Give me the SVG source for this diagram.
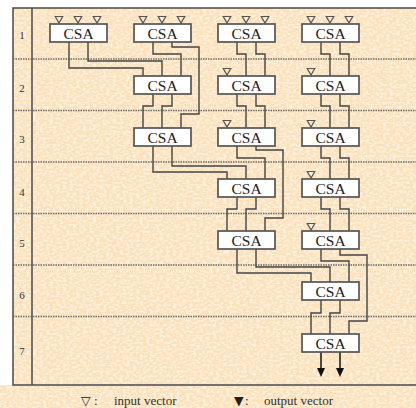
<svg xmlns="http://www.w3.org/2000/svg" xmlns:xlink="http://www.w3.org/1999/xlink" width="416" height="408" viewBox="0 0 416 408">
  <style>
    .frame { fill: none; stroke: #4a4a4a; stroke-width: 1.5; }
    .sep { fill: none; stroke: #6a6a6a; stroke-width: 1.5; stroke-dasharray: 1.5 1; }
    .row { font-family: "Liberation Serif", "DejaVu Serif", serif; font-size: 11px; fill: #333; text-anchor: middle; }
    .box rect { fill: #ffffff; stroke: #555555; stroke-width: 1.7; }
    .box text { font-family: "Liberation Serif", "DejaVu Serif", serif; font-size: 15.5px; fill: #222; text-anchor: middle; }
    .wire { fill: none; stroke: #444444; stroke-width: 1.4; }
    .out { fill: none; stroke: #222222; stroke-width: 1.6; marker-end: url(#outArrow); }
    .in { fill: none; stroke: #555555; stroke-width: 1.2; }
    .legend { font-family: "Liberation Serif", "DejaVu Serif", serif; font-size: 13px; fill: #333; }
    .sym { font-family: "DejaVu Sans", sans-serif; font-size: 12.5px; fill: #222; }
  </style>
  <defs>
    <filter id="paper" x="0" y="0" width="100%" height="100%">
      <feTurbulence type="fractalNoise" baseFrequency="0.3 0.45" numOctaves="2" seed="7" result="n"/>
      <feColorMatrix in="n" type="matrix" values="0 0 0 0 1  0 0 0 0 0.97  0 0 0 0 0.9  0 0 0 -3.2 1.9"/>
    </filter>
    <!-- hollow input-vector mark, tip sits on the y it is placed at -->
    <path id="inTri" d="M-3.75,-7.5 H3.75 L0,-1 Z"/>
    <marker id="outArrow" viewBox="0 0 8 9" refX="4" refY="0" markerWidth="8" markerHeight="9" markerUnits="userSpaceOnUse" orient="0">
      <path d="M0,0 H8 L4,9 Z" fill="#111"/>
    </marker>
  </defs>

  <!-- paper background -->
  <rect x="0" y="0" width="416" height="408" fill="#ffffff"/>
  <rect x="13" y="8" width="403" height="400" fill="#fbe1bb"/>
  <rect x="0" y="385" width="416" height="23" fill="#fbe1bb"/>
  <rect x="0" y="8" width="416" height="400" fill="#fff" filter="url(#paper)" opacity="0.65"/>
  <rect x="0" y="8" width="13" height="377" fill="#ffffff"/>

  <!-- time-step frame -->
  <g id="frame">
    <path class="frame" d="M416,8 H13 V385 H416"/>
    <line class="frame" x1="32" y1="8" x2="32" y2="385"/>
    <g>
      <line class="sep" x1="13" y1="59" x2="416" y2="59"/>
      <line class="sep" x1="13" y1="110.5" x2="416" y2="110.5"/>
      <line class="sep" x1="13" y1="162" x2="416" y2="162"/>
      <line class="sep" x1="13" y1="213.5" x2="416" y2="213.5"/>
      <line class="sep" x1="13" y1="265" x2="416" y2="265"/>
      <line class="sep" x1="13" y1="316.5" x2="416" y2="316.5"/>
    </g>
    <text class="row" x="22" y="39">1</text>
    <text class="row" x="22" y="92">2</text>
    <text class="row" x="22" y="143">3</text>
    <text class="row" x="22" y="196">4</text>
    <text class="row" x="22" y="247">5</text>
    <text class="row" x="22" y="299">6</text>
    <text class="row" x="22" y="355">7</text>
  </g>

  <!-- carry-save adder interconnect -->
  <g id="connectors">
    <path class="wire" d="M69,42 V68 H143 V76"/>
    <path class="wire" d="M88,42 V61 H162 V76"/>
    <path class="wire" d="M153,42 V54 H181 V76"/>
    <path class="wire" d="M172,42 V47 H199 V114 H181 V128"/>
    <path class="wire" d="M153,94 V106 H143 V128"/>
    <path class="wire" d="M172,94 V106 H162 V128"/>
    <path class="wire" d="M237,42 V54 H246 V76"/>
    <path class="wire" d="M256,42 V54 H265 V76"/>
    <path class="wire" d="M237,94 V106 H246 V128"/>
    <path class="wire" d="M256,94 V106 H265 V128"/>
    <path class="wire" d="M321,42 V54 H330 V76"/>
    <path class="wire" d="M340,42 V54 H349 V76"/>
    <path class="wire" d="M321,94 V106 H330 V128"/>
    <path class="wire" d="M340,94 V106 H349 V128"/>
    <path class="wire" d="M153,146 V172 H227 V179"/>
    <path class="wire" d="M172,146 V166 H246 V179"/>
    <path class="wire" d="M237,146 V158 H265 V179"/>
    <path class="wire" d="M256,146 V150 H283 V218 H265 V231"/>
    <path class="wire" d="M237,197 V209 H227 V231"/>
    <path class="wire" d="M256,197 V209 H246 V231"/>
    <path class="wire" d="M321,146 V158 H330 V179"/>
    <path class="wire" d="M340,146 V158 H349 V179"/>
    <path class="wire" d="M321,197 V209 H330 V231"/>
    <path class="wire" d="M340,197 V209 H349 V231"/>
    <path class="wire" d="M237,249 V273 H311 V282"/>
    <path class="wire" d="M256,249 V267 H330 V282"/>
    <path class="wire" d="M321,249 V261 H349 V282"/>
    <path class="wire" d="M340,249 V255 H367 V321 H349 V334"/>
    <path class="wire" d="M321,300 V313 H311 V334"/>
    <path class="wire" d="M340,300 V313 H330 V334"/>
    <path class="out" d="M321,352 V368"/>
    <path class="out" d="M340,352 V368"/>
  </g>

  <!-- input vectors -->
  <g id="inputs" class="in">
    <use xlink:href="#inTri" x="59" y="24"/>
    <use xlink:href="#inTri" x="78" y="24"/>
    <use xlink:href="#inTri" x="97" y="24"/>
    <use xlink:href="#inTri" x="143" y="24"/>
    <use xlink:href="#inTri" x="162" y="24"/>
    <use xlink:href="#inTri" x="181" y="24"/>
    <use xlink:href="#inTri" x="227" y="24"/>
    <use xlink:href="#inTri" x="246" y="24"/>
    <use xlink:href="#inTri" x="265" y="24"/>
    <use xlink:href="#inTri" x="311" y="24"/>
    <use xlink:href="#inTri" x="330" y="24"/>
    <use xlink:href="#inTri" x="349" y="24"/>
    <use xlink:href="#inTri" x="227" y="76"/>
    <use xlink:href="#inTri" x="227" y="128"/>
    <use xlink:href="#inTri" x="311" y="76"/>
    <use xlink:href="#inTri" x="311" y="128"/>
    <use xlink:href="#inTri" x="311" y="179"/>
    <use xlink:href="#inTri" x="311" y="231"/>
  </g>

  <!-- CSA nodes -->
  <g id="csa-r1-c1" class="box"><rect x="50" y="24" width="57" height="18"/><text x="78.5" y="38.5">CSA</text></g>
  <g id="csa-r1-c2" class="box"><rect x="134" y="24" width="57" height="18"/><text x="162.5" y="38.5">CSA</text></g>
  <g id="csa-r1-c3" class="box"><rect x="218" y="24" width="57" height="18"/><text x="246.5" y="38.5">CSA</text></g>
  <g id="csa-r1-c4" class="box"><rect x="302" y="24" width="57" height="18"/><text x="330.5" y="38.5">CSA</text></g>
  <g id="csa-r2-c2" class="box"><rect x="134" y="76" width="57" height="18"/><text x="162.5" y="90.5">CSA</text></g>
  <g id="csa-r2-c3" class="box"><rect x="218" y="76" width="57" height="18"/><text x="246.5" y="90.5">CSA</text></g>
  <g id="csa-r2-c4" class="box"><rect x="302" y="76" width="57" height="18"/><text x="330.5" y="90.5">CSA</text></g>
  <g id="csa-r3-c2" class="box"><rect x="134" y="128" width="57" height="18"/><text x="162.5" y="142.5">CSA</text></g>
  <g id="csa-r3-c3" class="box"><rect x="218" y="128" width="57" height="18"/><text x="246.5" y="142.5">CSA</text></g>
  <g id="csa-r3-c4" class="box"><rect x="302" y="128" width="57" height="18"/><text x="330.5" y="142.5">CSA</text></g>
  <g id="csa-r4-c3" class="box"><rect x="218" y="179" width="57" height="18"/><text x="246.5" y="193.5">CSA</text></g>
  <g id="csa-r4-c4" class="box"><rect x="302" y="179" width="57" height="18"/><text x="330.5" y="193.5">CSA</text></g>
  <g id="csa-r5-c3" class="box"><rect x="218" y="231" width="57" height="18"/><text x="246.5" y="245.5">CSA</text></g>
  <g id="csa-r5-c4" class="box"><rect x="302" y="231" width="57" height="18"/><text x="330.5" y="245.5">CSA</text></g>
  <g id="csa-r6-c4" class="box"><rect x="302" y="282" width="57" height="18"/><text x="330.5" y="296.5">CSA</text></g>
  <g id="csa-r7-c4" class="box"><rect x="302" y="334" width="57" height="18"/><text x="330.5" y="348.5">CSA</text></g>

  <!-- key -->
  <g id="legend">
    <text class="sym" x="81" y="405">▽</text>
    <text class="legend" x="94" y="405">:</text>
    <text class="legend" x="114" y="405">input vector</text>
    <text class="sym" x="234" y="405">▼</text>
    <text class="legend" x="245" y="405">:</text>
    <text class="legend" x="264" y="405">output vector</text>
  </g>
</svg>
